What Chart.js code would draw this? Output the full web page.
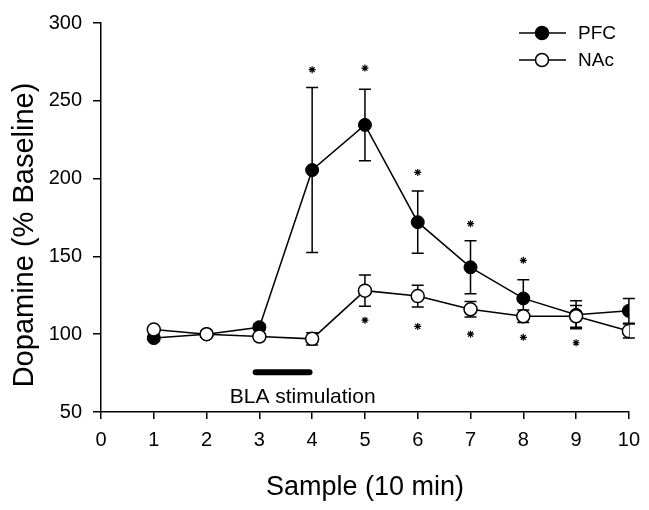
<!DOCTYPE html>
<html>
<head>
<meta charset="utf-8">
<script src="https://cdn.jsdelivr.net/npm/chart.js@4.4.1/dist/chart.umd.min.js"></script>
<style>
  html, body { margin: 0; padding: 0; background: #fff; }
</style>
</head>
<body>
<canvas id="myChart" width="649" height="510"></canvas>
<script>
// Samples (10 min each)
const samples = [1, 2, 3, 4, 5, 6, 7, 8, 9, 10];

// PFC dopamine (% baseline) and SEM
const pfcMean = [97.5, 100, 104.5, 205.5, 234.5, 172, 143, 123, 112.5, 115];
const pfcErr = [2, 1, 2, 53, 23, 20, 17, 12, 9, 8];

// NAc dopamine (% baseline) and SEM
const nacMean = [103, 100, 98.5, 97, 128, 124.5, 116, 111.5, 111.5, 102];
const nacErr = [2, 2, 2, 4, 10, 7, 5, 4, 7, 4.5];

// significance stars (above PFC, below NAc)
const pfcStarX = [4, 5, 6, 7, 8];
const pfcStarY = [270, 271, 204, 171, 147.5];
const nacStarX = [5, 6, 7, 8, 9];
const nacStarY = [109, 105, 100, 98, 94.5];

// BLA stimulation period
const stimX = [2.93, 3.95];
const stimY = 75.5;
const stimLabel = 'BLA stimulation';

const yTicks = [50, 100, 150, 200, 250, 300];
const FONT = "'Liberation Sans', Arial, Helvetica, sans-serif";

Chart.defaults.font.family = FONT;
Chart.defaults.color = '#000';

// error bars drawn before the points so the markers sit on top
const errorBars = {
    id: 'errorBars',
    beforeDatasetsDraw(chart) {
        const { ctx, scales: { x, y } } = chart;
        ctx.save();
        ctx.strokeStyle = '#000';
        ctx.lineWidth = 1.5;
        [[pfcMean, pfcErr], [nacMean, nacErr]].forEach(([m, e]) => {
            samples.forEach((s, i) => {
                const px = x.getPixelForValue(s);
                const top = y.getPixelForValue(m[i] + e[i]);
                const bot = y.getPixelForValue(m[i] - e[i]);
                ctx.beginPath();
                ctx.moveTo(px, top); ctx.lineTo(px, bot);
                ctx.moveTo(px - 6, top); ctx.lineTo(px + 6, top);
                ctx.moveTo(px - 6, bot); ctx.lineTo(px + 6, bot);
                ctx.stroke();
            });
        });
        ctx.restore();
    }
};

// axis titles, stimulation label and legend
const annotations = {
    id: 'annotations',
    afterDraw(chart) {
        const { ctx, scales: { x, y } } = chart;
        ctx.save();
        ctx.fillStyle = '#000';

        // y title
        ctx.save();
        ctx.translate(25, 235);
        ctx.rotate(-Math.PI / 2);
        ctx.font = '29px ' + FONT;
        ctx.textAlign = 'center';
        ctx.textBaseline = 'middle';
        ctx.fillText('Dopamine (% Baseline)', 0, 0);
        ctx.restore();

        // x title
        ctx.font = '27px ' + FONT;
        ctx.textAlign = 'center';
        ctx.textBaseline = 'alphabetic';
        ctx.fillText('Sample (10 min)', (chart.chartArea.left + chart.chartArea.right) / 2, 495);

        // stimulation label
        ctx.font = '21px ' + FONT;
        ctx.fillText(stimLabel, x.getPixelForValue(3.82), 403);

        // legend
        const items = [
            { label: 'PFC', fill: '#000', yy: 33 },
            { label: 'NAc', fill: '#fff', yy: 60 }
        ];
        items.forEach(it => {
            ctx.strokeStyle = '#000';
            ctx.lineWidth = 1.5;
            ctx.beginPath();
            ctx.moveTo(519, it.yy);
            ctx.lineTo(566, it.yy);
            ctx.stroke();
            ctx.beginPath();
            ctx.arc(542, it.yy, 6.5, 0, Math.PI * 2);
            ctx.fillStyle = it.fill;
            ctx.fill();
            ctx.stroke();
            ctx.fillStyle = '#000';
            ctx.font = '19px ' + FONT;
            ctx.textAlign = 'left';
            ctx.textBaseline = 'middle';
            ctx.fillText(it.label, 578, it.yy + 1);
        });
        ctx.restore();
    }
};

const ctx = document.getElementById('myChart').getContext('2d');
const myChart = new Chart(ctx, {
    type: 'line',
    data: {
        datasets: [
            {
                label: 'NAc',
                data: samples.map((s, i) => ({ x: s, y: nacMean[i] })),
                borderColor: '#000',
                borderWidth: 1.5,
                backgroundColor: '#fff',
                pointBackgroundColor: '#fff',
                pointBorderColor: '#000',
                pointBorderWidth: 1.5,
                pointRadius: 6.5,
                tension: 0,
                order: 0
            },
            {
                label: 'PFC',
                data: samples.map((s, i) => ({ x: s, y: pfcMean[i] })),
                borderColor: '#000',
                borderWidth: 1.5,
                backgroundColor: '#000',
                pointBackgroundColor: '#000',
                pointBorderColor: '#000',
                pointBorderWidth: 1,
                pointRadius: 6.5,
                tension: 0,
                order: 1
            },
            {
                label: 'pfcStars',
                type: 'scatter',
                data: pfcStarX.map((s, i) => ({ x: s, y: pfcStarY[i] })),
                pointStyle: 'star',
                pointRadius: 3.5,
                borderColor: '#000',
                borderWidth: 1.2,
                order: 2
            },
            {
                label: 'nacStars',
                type: 'scatter',
                data: nacStarX.map((s, i) => ({ x: s, y: nacStarY[i] })),
                pointStyle: 'star',
                pointRadius: 3.5,
                borderColor: '#000',
                borderWidth: 1.2,
                order: 2
            },
            {
                label: 'stim',
                data: stimX.map(s => ({ x: s, y: stimY })),
                borderColor: '#000',
                borderWidth: 6,
                borderCapStyle: 'round',
                pointRadius: 0,
                order: 3
            }
        ]
    },
    options: {
        responsive: false,
        animation: false,
        layout: { padding: { top: 19, right: 14, left: 0, bottom: 0 } },
        plugins: {
            legend: { display: false },
            tooltip: { enabled: false }
        },
        scales: {
            x: {
                type: 'linear',
                min: 0,
                max: 10,
                afterFit: (scale) => { scale.height = 98; },
                ticks: {
                    stepSize: 1,
                    padding: 9,
                    font: { size: 20 },
                    color: '#000'
                },
                grid: {
                    drawOnChartArea: false,
                    drawTicks: true,
                    tickLength: 7,
                    color: '#000',
                    lineWidth: 1.5
                },
                border: { display: true, color: '#000', width: 1.5 }
            },
            y: {
                type: 'linear',
                min: 50,
                max: 300,
                afterFit: (scale) => { scale.width = 101; },
                afterBuildTicks: (scale) => { scale.ticks = yTicks.map(v => ({ value: v })); },
                ticks: {
                    padding: 11,
                    font: { size: 20 },
                    color: '#000'
                },
                grid: {
                    drawOnChartArea: false,
                    drawTicks: true,
                    tickLength: 8,
                    color: '#000',
                    lineWidth: 1.5
                },
                border: { display: true, color: '#000', width: 1.5 }
            }
        }
    },
    plugins: [errorBars, annotations]
});
</script>
</body>
</html>
